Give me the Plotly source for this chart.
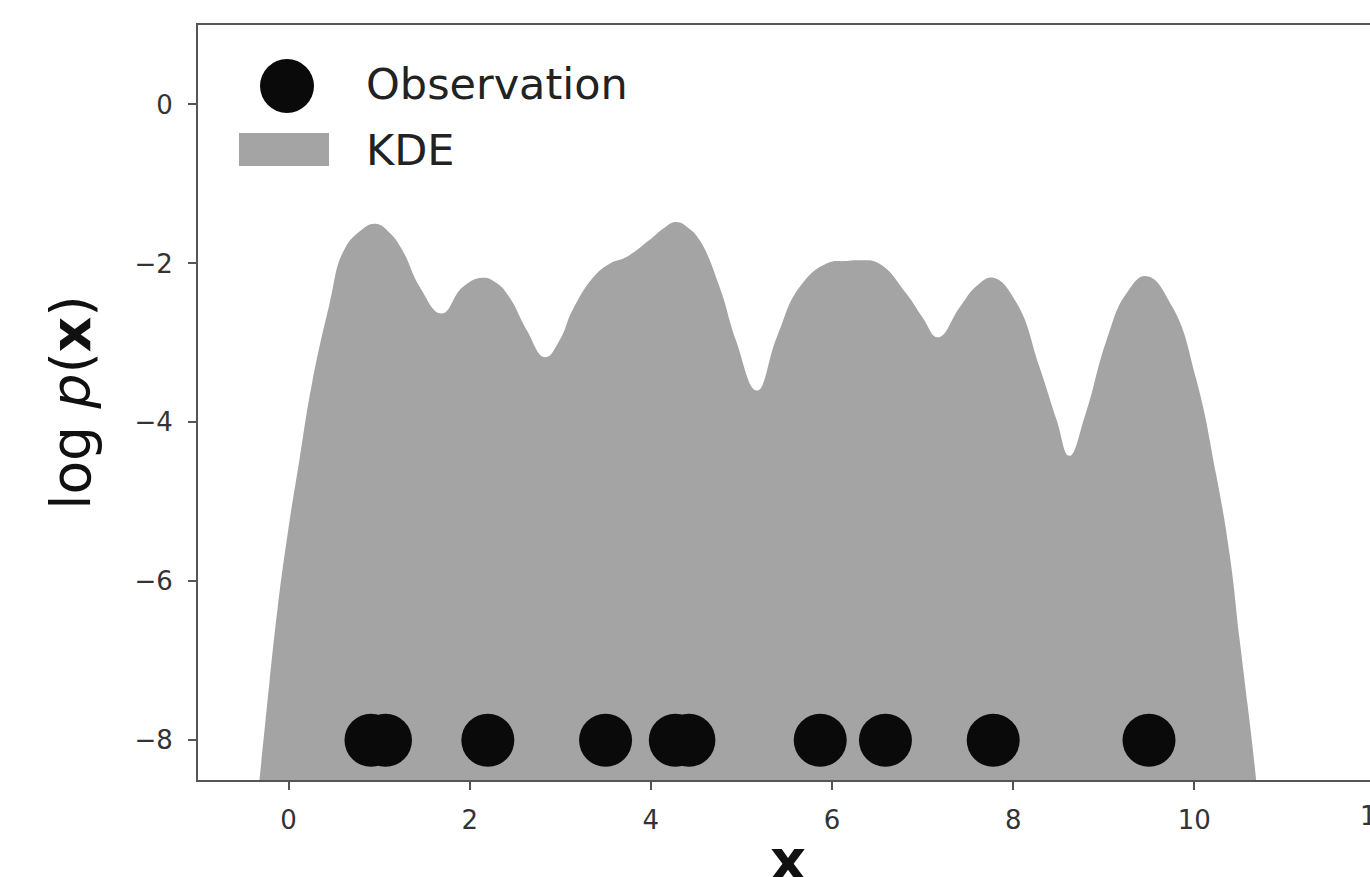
import plotly.graph_objects as go

# KDE curve (log density)
kde_x = [-0.45, -0.32, -0.21, -0.12, -0.01, 0.12, 0.26, 0.45, 0.60, 0.78, 0.96, 1.12, 1.26,
         1.45, 1.69, 1.92, 2.14, 2.30, 2.44, 2.63, 2.83, 3.00, 3.13, 3.36, 3.55, 3.73, 3.98,
         4.15, 4.28, 4.42, 4.54, 4.76, 4.94, 5.17, 5.39, 5.64, 5.94, 6.15, 6.30, 6.52, 6.82,
         7.00, 7.17, 7.41, 7.60, 7.78, 8.04, 8.29, 8.48, 8.62, 8.80, 9.03, 9.25, 9.47, 9.76,
         10.02, 10.24, 10.39, 10.50, 10.59, 10.68, 10.78]
kde_y = [-9.8, -8.48, -7.26, -6.33, -5.40, -4.47, -3.50, -2.52, -1.86, -1.60, -1.50, -1.62, -1.84,
         -2.30, -2.63, -2.30, -2.18, -2.25, -2.43, -2.84, -3.18, -2.95, -2.60, -2.18, -2.00, -1.92, -1.71,
         -1.55, -1.48, -1.56, -1.71, -2.30, -2.97, -3.60, -2.93, -2.30, -2.00, -1.97, -1.96, -2.00, -2.38,
         -2.68, -2.93, -2.55, -2.28, -2.18, -2.50, -3.30, -3.97, -4.42, -3.89, -2.97, -2.38, -2.16, -2.55,
         -3.45, -4.65, -5.66, -6.73, -7.57, -8.47, -9.8]
kde_floor = -10.0

# Observations
obs_x = [0.91, 1.07, 2.20, 3.50, 4.27, 4.42, 5.87, 6.59, 7.78, 9.50]
obs_y = [-8, -8, -8, -8, -8, -8, -8, -8, -8, -8]

legend_labels = ["Observation", "KDE"]
x_title = "<b>x</b>"
y_title = "log <i>p</i>(<b>x</b>)"

FILL = "#a4a4a4"
FONT = "DejaVu Sans"

fig = go.Figure()
fig.add_trace(go.Scatter(x=kde_x, y=[kde_floor] * len(kde_x), mode="lines",
                         line=dict(width=0, color=FILL), showlegend=False, hoverinfo="skip"))
fig.add_trace(go.Scatter(x=kde_x, y=kde_y, mode="lines", name="KDE",
                         line=dict(width=0, color=FILL, shape="spline", smoothing=1.3),
                         fill="tonexty", fillcolor=FILL, showlegend=False))
fig.add_trace(go.Scatter(x=obs_x, y=obs_y, mode="markers", name="Observation",
                         marker=dict(size=53, color="#0a0a0a", line=dict(width=0)),
                         showlegend=False))

# plot area: x 198..1370, y 25..780
W, H = 1370, 877
L, R, T, B = 198, 1370, 25, 780
def px(x):
    return (x - L) / (R - L)
def py(y):
    return (B - y) / (B - T)

shapes = [
    dict(type="circle", xref="paper", yref="paper", x0=px(260), x1=px(314), y0=py(113), y1=py(59),
         fillcolor="#0a0a0a", line=dict(width=0)),
    dict(type="rect", xref="paper", yref="paper", x0=px(239), x1=px(329), y0=py(166), y1=py(133),
         fillcolor=FILL, line=dict(width=0)),
]
annotations = [
    dict(text=legend_labels[0], xref="paper", yref="paper", x=px(364), y=py(84), xanchor="left",
         yanchor="middle", showarrow=False, font=dict(family=FONT, size=43, color="#222")),
    dict(text=legend_labels[1], xref="paper", yref="paper", x=px(364), y=py(150), xanchor="left",
         yanchor="middle", showarrow=False, font=dict(family=FONT, size=43, color="#222")),
    dict(text="12", xref="paper", yref="paper", x=px(1376), y=py(816), xanchor="center",
         yanchor="middle", showarrow=False, font=dict(family=FONT, size=26, color="#333")),
    dict(text=x_title, xref="paper", yref="paper", x=px(788), y=py(859), xanchor="center",
         yanchor="middle", showarrow=False, font=dict(family=FONT, size=56, color="#111")),
]

fig.update_layout(
    width=W, height=H,
    margin=dict(l=L, r=W - R, t=T, b=H - B, pad=0, autoexpand=False),
    paper_bgcolor="white", plot_bgcolor="white",
    font=dict(family=FONT, color="#333"),
    shapes=shapes, annotations=annotations,
    showlegend=False,
)
fig.update_xaxes(range=[-1, 11.94], dtick=2, tick0=0, showgrid=False, zeroline=False,
                 showline=True, mirror=True, linecolor="#555", linewidth=2, automargin=False,
                 ticks="outside", ticklen=8, tickwidth=1.5, tickcolor="#555",
                 tickfont=dict(family=FONT, size=26, color="#333"), ticklabelstandoff=8)
fig.update_yaxes(range=[-8.5, 1.0], dtick=2, tick0=0, showgrid=False, zeroline=False,
                 showline=True, mirror=False, linecolor="#555", linewidth=2, automargin=False,
                 ticks="outside", ticklen=8, tickwidth=1.5, tickcolor="#555",
                 tickfont=dict(family=FONT, size=26, color="#333"), ticklabelstandoff=10,
                 title=dict(text=y_title, font=dict(family=FONT, size=55, color="#111"),
                            standoff=26))

fig.write_html("out.html")
